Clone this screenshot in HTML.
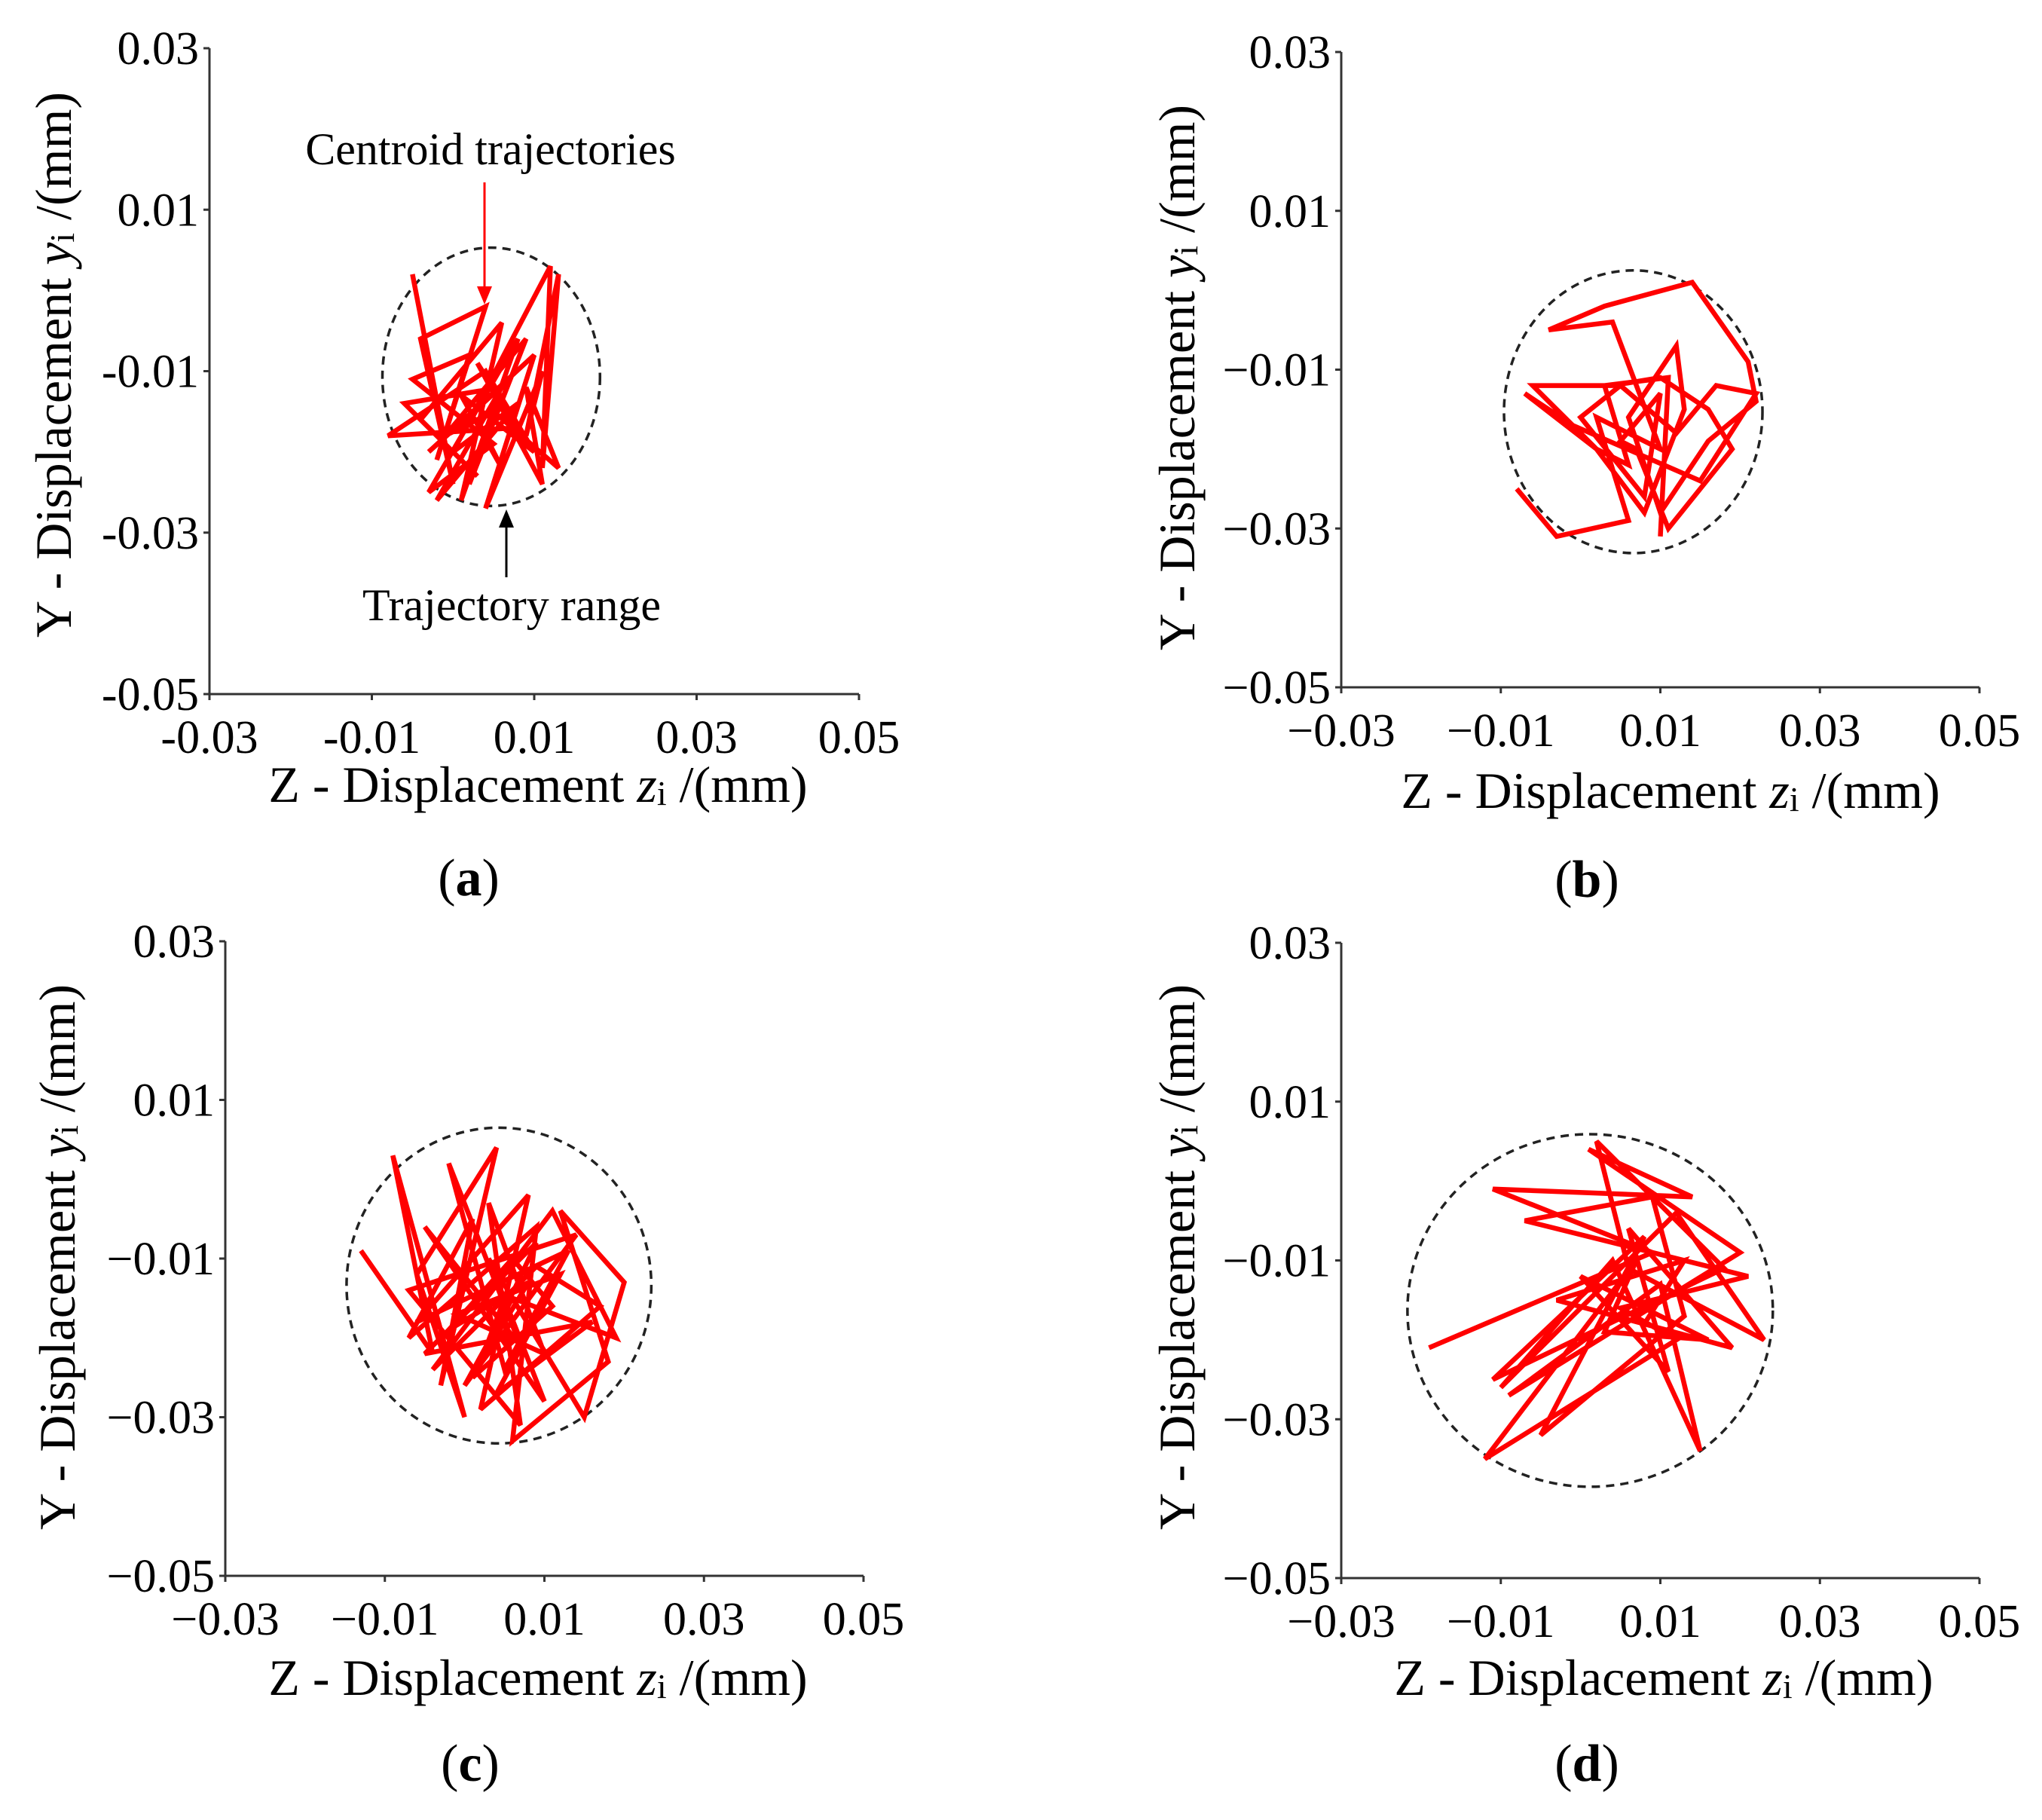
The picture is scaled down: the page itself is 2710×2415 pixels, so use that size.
<!DOCTYPE html>
<html><head><meta charset="utf-8"><style>
html,body{margin:0;padding:0;background:#fff;}
svg{display:block;font-family:"Liberation Serif","DejaVu Serif",serif;}
</style></head><body>
<svg id="fig" width="2710" height="2415" viewBox="0 0 2710 2415" xmlns="http://www.w3.org/2000/svg"></svg>
<script>
// ---- data (Z, Y displacement in mm) ----
const xTicks = [-0.03, -0.01, 0.01, 0.03, 0.05];
const yTicks = [0.03, 0.01, -0.01, -0.03, -0.05];
const xTickLabelsA = ["-0.03","-0.01","0.01","0.03","0.05"];
const yTickLabelsA = ["0.03","0.01","-0.01","-0.03","-0.05"];
const xTickLabels = ["\u22120.03","\u22120.01","0.01","0.03","0.05"];
const yTickLabels = ["0.03","0.01","\u22120.01","\u22120.03","\u22120.05"];

const aZ = [-0.005,0.000,-0.004,0.004,-0.002,0.002,-0.005,0.005,-0.003,0.008,0.001,0.006,-0.004,0.003,-0.006,0.006,-0.002,0.008,0.000,0.012,0.011,0.013,0.009,0.011,0.004,0.010,-0.003,0.007,0.002,0.009,-0.001,0.005,0.013,0.009,0.011,0.003,0.008,-0.008,0.004,0.010,0.001,0.006,0.003];
const aY = [0.002,-0.024,-0.006,-0.002,-0.021,-0.008,-0.011,-0.019,-0.025,-0.006,-0.026,-0.004,-0.016,-0.023,-0.014,-0.012,-0.026,-0.014,-0.020,0.003,-0.022,0.002,-0.018,-0.010,-0.027,-0.008,-0.020,-0.011,-0.024,-0.006,-0.018,-0.015,-0.022,-0.012,-0.024,-0.009,-0.017,-0.018,-0.010,-0.020,-0.013,-0.022,-0.016];
const aRange = [0.0047, -0.0107, 0.0134, 0.016]; // centre z, centre y, radius z, radius y

const bZ = [-0.008,-0.003,0.006,0.002,0.010,0.004,-0.004,0.003,0.014,0.021,0.022,0.016,0.010,0.006,0.012,0.013,0.008,0.002,-0.006,0.004,0.010,0.016,0.019,0.011,0.007,0.005,0.010,0.008,0.000,0.005,0.012,0.017,0.022,0.015,-0.001,-0.007,0.002,0.006,0.003,0.011,0.010];
const bY = [-0.025,-0.031,-0.029,-0.016,-0.020,-0.004,-0.005,-0.002,0.001,-0.009,-0.014,-0.019,-0.028,-0.016,-0.007,-0.015,-0.028,-0.020,-0.012,-0.012,-0.011,-0.015,-0.020,-0.030,-0.020,-0.019,-0.013,-0.026,-0.016,-0.012,-0.018,-0.012,-0.013,-0.024,-0.017,-0.013,-0.020,-0.022,-0.012,-0.011,-0.031];
const bRange = [0.0066, -0.0153, 0.0162, 0.0178];

const cZ = [-0.013,-0.004,-0.009,0.000,-0.006,0.004,-0.003,0.001,-0.007,0.009,0.006,0.018,0.012,0.020,0.015,0.003,0.010,-0.005,0.007,-0.002,0.005,0.013,-0.006,0.008,0.002,0.017,0.009,-0.004,0.011,0.019,0.006,0.000,0.014,-0.007,0.007,0.003,0.010,-0.001,0.012,0.004,0.016,-0.005,0.009,0.001,0.011,0.006,-0.002,0.008,0.002,0.005];
const cY = [-0.009,-0.022,0.003,-0.030,-0.012,0.004,-0.026,-0.005,-0.020,-0.006,-0.033,-0.023,-0.004,-0.013,-0.030,-0.010,-0.028,-0.006,-0.021,0.002,-0.024,-0.009,-0.018,-0.002,-0.029,-0.016,-0.011,-0.024,-0.004,-0.020,-0.015,-0.026,-0.007,-0.014,-0.031,-0.003,-0.022,-0.017,-0.012,-0.027,-0.018,-0.022,-0.008,-0.025,-0.016,-0.010,-0.019,-0.013,-0.023,-0.015];
const cRange = [0.0043, -0.0134, 0.0191, 0.0199];

const dZ = [-0.019,0.009,-0.011,0.014,0.001,0.020,-0.009,0.010,0.015,0.004,-0.010,0.012,0.023,0.006,0.002,0.018,-0.011,0.008,-0.005,0.013,0.009,-0.007,0.021,0.005,0.012,-0.012,0.007,0.003,0.016,0.000,0.011,0.006,0.019,-0.003,0.013,0.008];
const dY = [-0.021,-0.009,-0.001,-0.002,0.004,-0.009,-0.027,-0.013,-0.034,-0.010,-0.026,-0.004,-0.020,-0.011,0.005,-0.011,-0.025,-0.007,-0.032,-0.017,-0.002,-0.005,-0.012,-0.016,-0.020,-0.035,-0.010,-0.019,-0.020,-0.012,-0.024,-0.006,-0.021,-0.015,-0.010,-0.018];
const dRange = [0.0012, -0.0163, 0.0229, 0.0222];

const NS = "http://www.w3.org/2000/svg";
const svg = document.getElementById("fig");
function mk(tag, attrs, parent) {
  const e = document.createElementNS(NS, tag);
  for (const k in attrs) e.setAttribute(k, attrs[k]);
  (parent || svg).appendChild(e);
  return e;
}

function panel(id, L, zs, ys, rng, xl, yl) {
  const g = mk("g", {});
  
  
  const sx = v => L.x0 + (v - (-0.03)) / 0.08 * (L.x1 - L.x0);
  const sy = v => L.y0 + (0.03 - v) / 0.08 * (L.y1 - L.y0);

  const el = mk("ellipse", {cx: sx(rng[0]), cy: sy(rng[1]), rx: sx(rng[0] + rng[2]) - sx(rng[0]), ry: sy(rng[1] - rng[3]) - sy(rng[1]),
    fill: "none", stroke: "#222", "stroke-width": 3.5, "stroke-dasharray": "11 8"}, g);
  
  

  const n = Math.min(zs.length, ys.length);
  let pts = [];
  for (let i = 0; i < n; i++) pts.push(sx(zs[i]).toFixed(1) + "," + sy(ys[i]).toFixed(1));
  const pl = mk("polyline", {points: pts.join(" "), fill: "none", stroke: "#ff0000", "stroke-width": 6.5, "stroke-linejoin": "miter", "stroke-miterlimit": 3}, g);
  
  

  const ax = mk("path", {d: `M${L.x0},${L.y0} V${L.y1} H${L.x1}`, fill: "none", stroke: "#333", "stroke-width": 3}, g);
  
  
  xTicks.forEach((t, i) => {
    const x = sx(t);
    mk("line", {x1: x, y1: L.y1, x2: x, y2: L.y1 + 8, stroke: "#333", "stroke-width": 3}, g);
    const tx = mk("text", {x: x, y: L.y1 + 78, "font-size": 62, "text-anchor": "middle", fill: "#000"}, g);
    tx.textContent = xl[i];
    
    
  });
  yTicks.forEach((t, i) => {
    const y = sy(t);
    mk("line", {x1: L.x0 - 8, y1: y, x2: L.x0, y2: y, stroke: "#333", "stroke-width": 3}, g);
    const ty = mk("text", {x: L.x0 - 14, y: y + 21, "font-size": 62, "text-anchor": "end", fill: "#000"}, g);
    ty.textContent = yl[i];
    
    
  });

  const xt = mk("text", {x: L.xtx, y: L.xty, "font-size": 68, "text-anchor": "middle", fill: "#000"}, g);
  xt.innerHTML = 'Z - Displacement <tspan font-style="italic">z</tspan><tspan font-size="46" dy="4">i</tspan><tspan dy="-4"> /(mm)</tspan>';
  
  
  const yt = mk("text", {x: 0, y: 0, "font-size": 68, "text-anchor": "middle", fill: "#000",
    transform: `translate(${L.ytx},${L.yty}) rotate(-90)`}, g);
  yt.innerHTML = 'Y - Displacement <tspan font-style="italic">y</tspan><tspan font-size="46" dy="4">i</tspan><tspan dy="-4"> /(mm)</tspan>';
  
  
  const cp = mk("text", {x: L.cx, y: L.cy, "font-size": 70, "text-anchor": "middle", fill: "#000"}, g);
  cp.innerHTML = '(<tspan font-weight="bold">' + id + '</tspan>)';
  
  
}

panel("a", {x0:278,x1:1140,y0:64,y1:921, xtx:714,xty:1064, ytx:94,yty:484, cx:622,cy:1188}, aZ, aY, aRange, xTickLabelsA, yTickLabelsA);
panel("b", {x0:1780,x1:2627,y0:69,y1:912, xtx:2217,xty:1072, ytx:1585,yty:501, cx:2106,cy:1190}, bZ, bY, bRange, xTickLabels, yTickLabels);
panel("c", {x0:299,x1:1146,y0:1249,y1:2091, xtx:714,xty:2249, ytx:99,yty:1668, cx:624,cy:2363}, cZ, cY, cRange, xTickLabels, yTickLabels);
panel("d", {x0:1780,x1:2627,y0:1251,y1:2094, xtx:2208,xty:2249, ytx:1585,yty:1668, cx:2106,cy:2363}, dZ, dY, dRange, xTickLabels, yTickLabels);

const t1 = mk("text", {x: 651, y: 218, "font-size": 60, "text-anchor": "middle", fill: "#000"});
t1.textContent = "Centroid trajectories";


const a1 = mk("line", {x1: 643, y1: 242, x2: 643, y2: 385, stroke: "#ff0000", "stroke-width": 3});


const h1 = mk("polygon", {points: "633,380 653,380 643,404", fill: "#ff0000"});


const t2 = mk("text", {x: 679, y: 823, "font-size": 60, "text-anchor": "middle", fill: "#000"});
t2.textContent = "Trajectory range";


const a2 = mk("line", {x1: 672, y1: 766, x2: 672, y2: 695, stroke: "#000", "stroke-width": 3});


const h2 = mk("polygon", {points: "662,700 682,700 672,676", fill: "#000"});


</script>
</body></html>
